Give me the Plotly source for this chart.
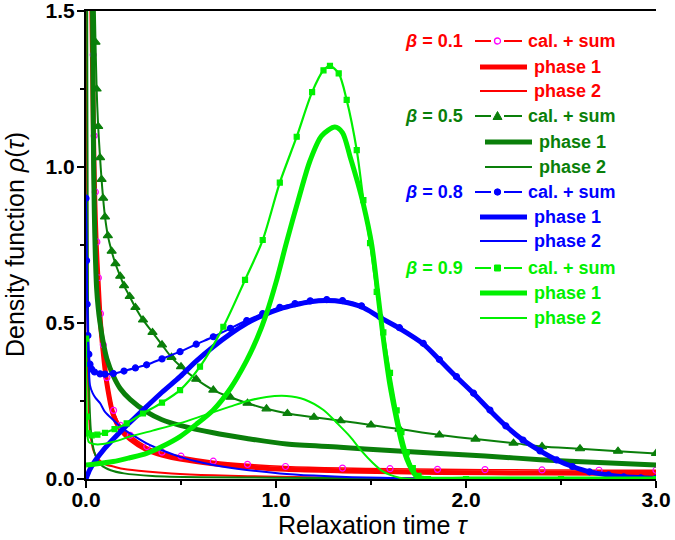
import plotly.graph_objects as go

# ---------------- data ----------------
# beta = 0.1
tau_b1_sum = [0.034, 0.038, 0.043, 0.049, 0.057, 0.065, 0.076, 0.091, 0.11, 0.145, 0.181, 0.233, 0.32, 0.4, 0.5, 0.67, 0.85, 1.05, 1.35, 1.6, 1.85, 2.1, 2.4, 2.7, 3.0]
rho_b1_sum = [1.55, 1.36, 1.1, 0.92, 0.76, 0.645, 0.53, 0.43, 0.325, 0.22, 0.172, 0.14, 0.104, 0.086, 0.073, 0.057, 0.047, 0.04, 0.035, 0.033, 0.031, 0.030, 0.029, 0.028, 0.028]
tau_b1_p1 = [0.03, 0.035, 0.04, 0.046, 0.054, 0.064, 0.075, 0.09, 0.109, 0.144, 0.18, 0.232, 0.319, 0.4, 0.495, 0.67, 0.846, 1.05, 1.35, 1.85, 2.4, 3.0]
rho_b1_p1 = [1.55, 1.3, 1.08, 0.9, 0.75, 0.63, 0.51, 0.41, 0.31, 0.205, 0.16, 0.128, 0.094, 0.077, 0.064, 0.049, 0.039, 0.031, 0.026, 0.021, 0.019, 0.018]
tau_b1_p2 = [0.004, 0.006, 0.008, 0.011, 0.015, 0.021, 0.03, 0.04, 0.056, 0.08, 0.11, 0.144, 0.2, 0.319, 0.45, 0.67, 0.85, 1.02, 1.3, 1.6, 2.0, 3.0]
rho_b1_p2 = [1.55, 0.9, 0.55, 0.32, 0.22, 0.157, 0.115, 0.09, 0.071, 0.055, 0.045, 0.04, 0.032, 0.024, 0.018, 0.012, 0.009, 0.007, 0.004, 0.002, 0.001, 0.0]

# beta = 0.5
tau_b5_sum = [0.045, 0.05, 0.056, 0.064, 0.074, 0.082, 0.09, 0.1, 0.115, 0.135, 0.155, 0.18, 0.2, 0.23, 0.26, 0.3, 0.35, 0.4, 0.45, 0.5, 0.58, 0.67, 0.76, 0.85, 0.95, 1.06, 1.2, 1.34, 1.5, 1.65, 1.86, 2.05, 2.25, 2.4, 2.6, 2.8, 3.0]
rho_b5_sum = [1.55, 1.4, 1.25, 1.13, 1.03, 0.96, 0.9, 0.84, 0.78, 0.73, 0.69, 0.65, 0.62, 0.585, 0.55, 0.51, 0.47, 0.43, 0.39, 0.36, 0.32, 0.285, 0.262, 0.243, 0.225, 0.21, 0.198, 0.187, 0.173, 0.16, 0.141, 0.128, 0.115, 0.104, 0.097, 0.089, 0.082]
tau_b5_p1 = [0.034, 0.037, 0.04, 0.044, 0.049, 0.056, 0.064, 0.074, 0.09, 0.11, 0.144, 0.18, 0.232, 0.319, 0.4, 0.495, 0.67, 0.846, 1.056, 1.337, 1.6, 1.863, 2.1, 2.39, 2.7, 3.0]
rho_b5_p1 = [1.55, 1.25, 1.02, 0.85, 0.72, 0.61, 0.55, 0.5, 0.44, 0.385, 0.33, 0.29, 0.255, 0.215, 0.19, 0.172, 0.148, 0.13, 0.112, 0.102, 0.091, 0.082, 0.074, 0.062, 0.053, 0.045]
tau_b5_p2 = [0.006, 0.008, 0.01, 0.013, 0.018, 0.025, 0.035, 0.05, 0.08, 0.13, 0.2, 0.35, 0.6, 1.0, 1.5, 2.0, 3.0]
rho_b5_p2 = [1.55, 1.0, 0.6, 0.4, 0.25, 0.16, 0.11, 0.075, 0.045, 0.028, 0.018, 0.01, 0.006, 0.004, 0.002, 0.001, 0.0]

# beta = 0.8
tau_b8_sum = [0.0, 0.003, 0.006, 0.01, 0.015, 0.021, 0.03, 0.045, 0.074, 0.1, 0.144, 0.2, 0.26, 0.319, 0.4, 0.495, 0.58, 0.67, 0.76, 0.846, 0.93, 1.02, 1.1, 1.18, 1.267, 1.35, 1.45, 1.547, 1.65, 1.775, 1.86, 1.95, 2.04, 2.126, 2.21, 2.3, 2.39, 2.477, 2.56, 2.65, 2.75, 2.83, 2.92, 3.0]
rho_b8_sum = [0.9, 0.7, 0.56, 0.46, 0.4, 0.368, 0.352, 0.343, 0.337, 0.336, 0.338, 0.346, 0.356, 0.366, 0.385, 0.408, 0.432, 0.456, 0.483, 0.508, 0.53, 0.55, 0.562, 0.571, 0.575, 0.572, 0.555, 0.52, 0.485, 0.435, 0.383, 0.328, 0.275, 0.221, 0.17, 0.125, 0.09, 0.061, 0.04, 0.023, 0.013, 0.007, 0.004, 0.002]
tau_b8_p1 = [0.0, 0.02, 0.05, 0.09, 0.144, 0.2, 0.26, 0.319, 0.4, 0.495, 0.58, 0.67, 0.76, 0.846, 0.93, 1.02, 1.1, 1.18, 1.267, 1.35, 1.45, 1.547, 1.65, 1.775, 1.86, 1.95, 2.04, 2.126, 2.21, 2.3, 2.39, 2.477, 2.56, 2.65, 2.75, 2.83, 2.92, 3.0]
rho_b8_p1 = [0.0, 0.03, 0.06, 0.092, 0.128, 0.163, 0.198, 0.232, 0.278, 0.328, 0.378, 0.424, 0.465, 0.499, 0.524, 0.545, 0.558, 0.568, 0.572, 0.568, 0.552, 0.518, 0.483, 0.433, 0.382, 0.327, 0.274, 0.22, 0.17, 0.125, 0.09, 0.061, 0.04, 0.023, 0.013, 0.007, 0.004, 0.002]
tau_b8_p2 = [0.0, 0.004, 0.008, 0.013, 0.021, 0.035, 0.05, 0.074, 0.1, 0.144, 0.19, 0.232, 0.319, 0.4, 0.495, 0.58, 0.67, 0.846, 1.02, 1.2, 1.4, 1.7, 2.0, 3.0]
rho_b8_p2 = [0.9, 0.68, 0.52, 0.4, 0.3, 0.275, 0.26, 0.243, 0.215, 0.189, 0.163, 0.146, 0.114, 0.092, 0.071, 0.057, 0.045, 0.029, 0.018, 0.011, 0.006, 0.002, 0.0, 0.0]

# beta = 0.9
tau_b9_sum = [0.0, 0.004, 0.012, 0.03, 0.06, 0.1, 0.15, 0.214, 0.3, 0.4, 0.495, 0.6, 0.723, 0.837, 0.93, 1.02, 1.109, 1.19, 1.25, 1.284, 1.33, 1.372, 1.425, 1.46, 1.495, 1.53, 1.565, 1.6, 1.635, 1.66, 1.688, 1.72, 1.75, 1.8, 2.0, 2.5, 3.0]
rho_b9_sum = [0.45, 0.2, 0.146, 0.14, 0.142, 0.148, 0.16, 0.178, 0.21, 0.245, 0.285, 0.36, 0.488, 0.638, 0.766, 0.95, 1.097, 1.24, 1.31, 1.324, 1.3, 1.215, 1.054, 0.894, 0.756, 0.6, 0.47, 0.34, 0.22, 0.15, 0.085, 0.035, 0.01, 0.0, 0.0, 0.0, 0.0]
tau_b9_p1 = [0.0, 0.05, 0.144, 0.23, 0.319, 0.4, 0.495, 0.58, 0.67, 0.76, 0.846, 0.9, 0.95, 1.0, 1.056, 1.12, 1.179, 1.24, 1.31, 1.35, 1.39, 1.43, 1.46, 1.504, 1.535, 1.565, 1.6, 1.635, 1.66, 1.688, 1.715, 1.74, 1.8, 2.0, 2.5, 3.0]
rho_b9_p1 = [0.045, 0.048, 0.056, 0.068, 0.082, 0.104, 0.136, 0.175, 0.221, 0.29, 0.38, 0.45, 0.53, 0.63, 0.76, 0.9, 1.02, 1.1, 1.128, 1.11, 1.033, 0.95, 0.88, 0.75, 0.6, 0.45, 0.3, 0.19, 0.12, 0.065, 0.03, 0.008, 0.0, 0.0, 0.0, 0.0]
tau_b9_p2 = [0.0, 0.004, 0.015, 0.04, 0.074, 0.15, 0.232, 0.35, 0.495, 0.62, 0.758, 0.85, 0.95, 1.056, 1.15, 1.25, 1.32, 1.39, 1.45, 1.51, 1.56, 1.6, 1.65, 1.7, 2.0, 3.0]
rho_b9_p2 = [0.4, 0.16, 0.118, 0.112, 0.111, 0.12, 0.136, 0.155, 0.179, 0.204, 0.232, 0.25, 0.263, 0.266, 0.255, 0.221, 0.18, 0.136, 0.09, 0.051, 0.025, 0.013, 0.004, 0.0, 0.0, 0.0]

beta_labels = ["0.1", "0.5", "0.8", "0.9"]
legend_texts = ["cal. + sum", "phase 1", "phase 2"]
x_tickvals = [0, 1, 2, 3]
x_ticktext = ["0.0", "1.0", "2.0", "3.0"]
y_tickvals = [0, 0.5, 1.0, 1.5]
y_ticktext = ["0.0", "0.5", "1.0", "1.5"]

# ---------------- styles ----------------
RED, MAG, DKG, BLUE, LG = "#FF0000", "#FF00FF", "#0A7F0A", "#0000FF", "#00F000"
FONT = "Liberation Sans, Arial, sans-serif"

groups = [
    dict(color=RED, mcolor=MAG, symbol="circle-open", msize=6, sw=1.5,
         sum=(tau_b1_sum, rho_b1_sum), p1=(tau_b1_p1, rho_b1_p1), p2=(tau_b1_p2, rho_b1_p2)),
    dict(color=DKG, mcolor=DKG, symbol="triangle-up", msize=8, sw=2,
         sum=(tau_b5_sum, rho_b5_sum), p1=(tau_b5_p1, rho_b5_p1), p2=(tau_b5_p2, rho_b5_p2)),
    dict(color=BLUE, mcolor=BLUE, symbol="circle", msize=6, sw=2,
         sum=(tau_b8_sum, rho_b8_sum), p1=(tau_b8_p1, rho_b8_p1), p2=(tau_b8_p2, rho_b8_p2)),
    dict(color=LG, mcolor=LG, symbol="square", msize=5, sw=2.2,
         sum=(tau_b9_sum, rho_b9_sum), p1=(tau_b9_p1, rho_b9_p1), p2=(tau_b9_p2, rho_b9_p2)),
]

fig = go.Figure()
for g in groups:
    fig.add_trace(go.Scatter(x=g["p1"][0], y=g["p1"][1], mode="lines",
                             line=dict(color=g["color"], width=5, shape="spline", smoothing=0.8),
                             showlegend=False, hoverinfo="skip"))
    fig.add_trace(go.Scatter(x=g["p2"][0], y=g["p2"][1], mode="lines",
                             line=dict(color=g["color"], width=2, shape="spline", smoothing=0.8),
                             showlegend=False, hoverinfo="skip"))
    fig.add_trace(go.Scatter(x=g["sum"][0], y=g["sum"][1], mode="lines+markers",
                             line=dict(color=g["color"], width=g["sw"], shape="spline", smoothing=0.8),
                             marker=dict(symbol=g["symbol"], size=g["msize"], color=g["mcolor"],
                                         line=dict(width=1.2, color=g["mcolor"])),
                             showlegend=False, hoverinfo="skip"))

# ---------------- plot geometry (pixels) ----------------
W, H = 675, 540
L, R, T, B = 86, 19, 11, 61
PW, PH = W - L - R, H - T - B


def px(x, y):
    return (x - L) / PW, (H - B - y) / PH


shapes = []
annotations = []
row_y = [41, 67, 91, 116, 142, 167, 192, 217, 241, 268, 293, 318]
for gi, g in enumerate(groups):
    c = g["color"]
    y0 = row_y[3 * gi]
    y1 = row_y[3 * gi + 1]
    y2 = row_y[3 * gi + 2]
    shift = 5 if gi == 1 else 0
    # beta label
    xa, ya = px(465, y0)
    annotations.append(dict(x=xa, y=ya, xref="paper", yref="paper", xanchor="right", yanchor="middle",
                            text="<i>β</i> = " + beta_labels[gi], showarrow=False,
                            font=dict(family=FONT, size=18, color=c, weight="bold")))
    # sum symbol: two segments + marker
    for (a, b) in [(475, 491), (504, 522)]:
        xa0, ya0 = px(a, y0)
        xa1, _ = px(b, y0)
        shapes.append(dict(type="line", xref="paper", yref="paper", x0=xa0, x1=xa1, y0=ya0, y1=ya0,
                           line=dict(color=c, width=2)))
    mx = 497.5
    if g["symbol"] == "circle-open":
        a0, b0 = px(mx - 3, y0 - 3)
        a1, b1 = px(mx + 3, y0 + 3)
        shapes.append(dict(type="circle", xref="paper", yref="paper", x0=a0, x1=a1, y0=b0, y1=b1,
                           line=dict(color=MAG, width=1.3)))
    elif g["symbol"] == "circle":
        a0, b0 = px(mx - 3.2, y0 - 3.2)
        a1, b1 = px(mx + 3.2, y0 + 3.2)
        shapes.append(dict(type="circle", xref="paper", yref="paper", x0=a0, x1=a1, y0=b0, y1=b1,
                           fillcolor=c, line=dict(color=c, width=1)))
    elif g["symbol"] == "square":
        a0, b0 = px(mx - 3, y0 - 3)
        a1, b1 = px(mx + 3, y0 + 3)
        shapes.append(dict(type="rect", xref="paper", yref="paper", x0=a0, x1=a1, y0=b0, y1=b1,
                           fillcolor=c, line=dict(color=c, width=1)))
    else:
        p1x, p1y = px(mx - 4.5, y0 + 3.5)
        p2x, p2y = px(mx + 4.5, y0 + 3.5)
        p3x, p3y = px(mx, y0 - 4.5)
        shapes.append(dict(type="path", xref="paper", yref="paper",
                           path=f"M {p1x} {p1y} L {p2x} {p2y} L {p3x} {p3y} Z",
                           fillcolor=c, line=dict(color=c, width=1)))
    xa, ya = px(526, y0)
    annotations.append(dict(x=xa, y=ya, xref="paper", yref="paper", xanchor="left", yanchor="middle",
                            text=legend_texts[0], showarrow=False,
                            font=dict(family=FONT, size=18, color=c, weight="bold")))
    # phase 1 / phase 2
    for (yy, wdt, txt) in [(y1, 5, legend_texts[1]), (y2, 2, legend_texts[2])]:
        xa0, ya0 = px(480 + shift, yy)
        xa1, _ = px(527 + shift, yy)
        shapes.append(dict(type="line", xref="paper", yref="paper", x0=xa0, x1=xa1, y0=ya0, y1=ya0,
                           line=dict(color=c, width=wdt)))
        xa, ya = px(532 + shift, yy)
        annotations.append(dict(x=xa, y=ya, xref="paper", yref="paper", xanchor="left", yanchor="middle",
                                text=txt, showarrow=False,
                                font=dict(family=FONT, size=18, color=c, weight="bold")))

# axis titles
xa, ya = px(373, 525)
annotations.append(dict(x=xa, y=ya, xref="paper", yref="paper", xanchor="center", yanchor="middle",
                        text="Relaxation time <i>τ</i>", showarrow=False,
                        font=dict(family=FONT, size=25, color="black")))
xa, ya = px(15, 245)
annotations.append(dict(x=xa, y=ya, xref="paper", yref="paper", xanchor="center", yanchor="middle",
                        text="Density function <i>ρ</i>(<i>τ</i>)", showarrow=False, textangle=-90,
                        font=dict(family=FONT, size=25, color="black")))

axis_common = dict(showline=True, linecolor="black", linewidth=2, ticks="outside", ticklen=7,
                   tickwidth=2, tickcolor="black", showgrid=False, zeroline=False, automargin=False,
                   ticklabeloverflow="allow",
                   tickfont=dict(family=FONT, size=21, color="black", weight="bold"))

fig.update_layout(
    width=W, height=H,
    margin=dict(l=L, r=R, t=T, b=B, autoexpand=False),
    plot_bgcolor="white", paper_bgcolor="white",
    showlegend=False,
    shapes=shapes, annotations=annotations,
    xaxis=dict(range=[0, 3], tickmode="array", tickvals=x_tickvals, ticktext=x_ticktext,
               mirror=True, ticklabelstandoff=-6,
               minor=dict(tickmode="array", tickvals=[0.5, 1.5, 2.5], ticks="outside", ticklen=4,
                          tickwidth=2, tickcolor="black"),
               **axis_common),
    yaxis=dict(range=[0, 1.5], tickmode="array", tickvals=y_tickvals, ticktext=y_ticktext,
               ticklabelstandoff=-2,
               minor=dict(tickmode="array", tickvals=[0.25, 0.75, 1.25], ticks="outside", ticklen=4,
                          tickwidth=2, tickcolor="black"),
               **axis_common),
)

fig.write_html("out.html", config={"displayModeBar": False},
               post_script="document.body.style.margin='0';document.body.style.padding='0';"
                           "document.body.style.overflow='hidden';")
